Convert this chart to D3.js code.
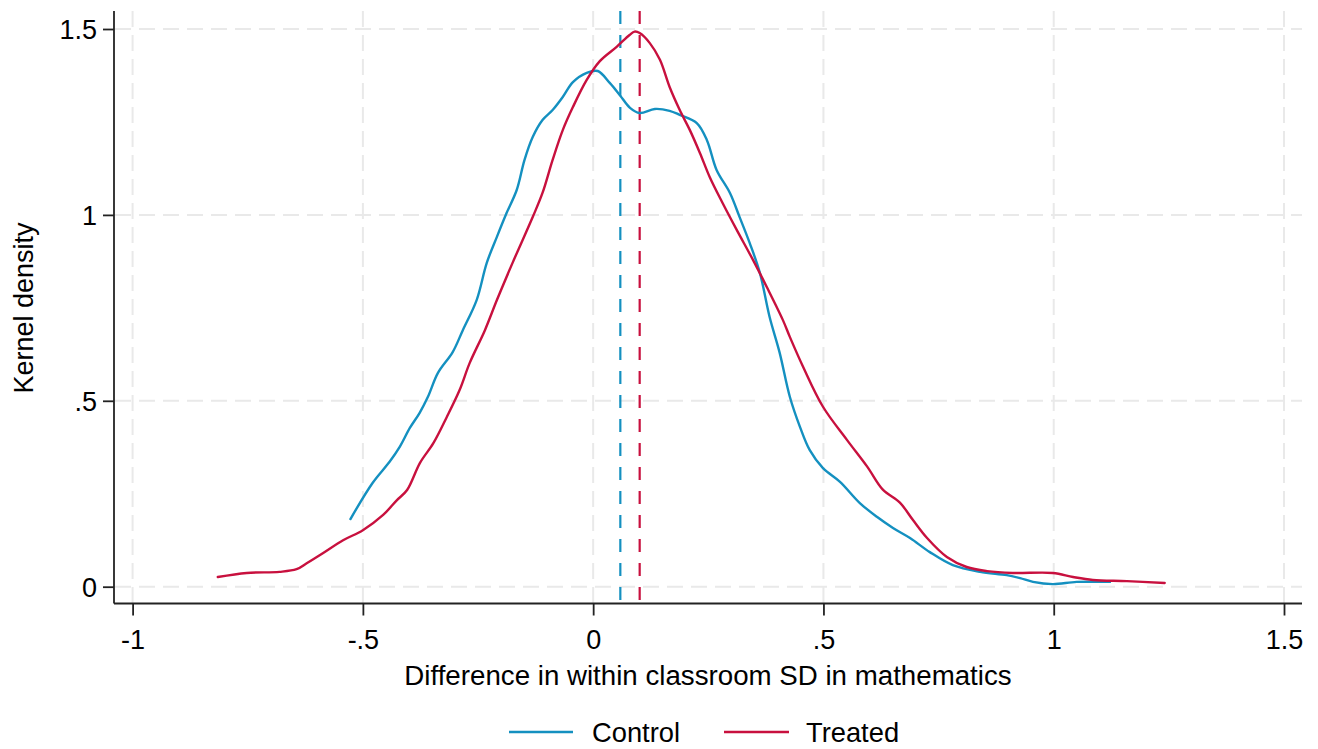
<!DOCTYPE html>
<html>
<head>
<meta charset="utf-8">
<script src="https://cdn.jsdelivr.net/npm/d3@7"></script>
<style>
  html, body { margin: 0; padding: 0; background: #fff; }
  svg { display: block; }
  text { font-family: "Liberation Sans", Arial, sans-serif; fill: #000; }
</style>
</head>
<body>
<svg id="chart" width="1318" height="749"></svg>
<script>
// ---- Data ----
const seriesNames = ["Control", "Treated"];
const controlX = [-0.527,-0.479,-0.442,-0.420,-0.398,-0.377,-0.359,-0.337,-0.305,-0.283,-0.253,-0.231,-0.209,-0.188,-0.166,-0.149,-0.131,-0.110,-0.088,-0.066,-0.044,-0.014,0.010,0.036,0.058,0.080,0.101,0.134,0.166,0.188,0.225,0.247,0.268,0.297,0.318,0.340,0.362,0.383,0.405,0.427,0.449,0.470,0.499,0.536,0.579,0.616,0.651,0.688,0.731,0.781,0.840,0.898,0.927,0.955,0.998,1.050,1.122];
const controlY = [0.182,0.279,0.336,0.376,0.427,0.467,0.510,0.575,0.631,0.690,0.771,0.871,0.941,1.005,1.067,1.148,1.210,1.255,1.282,1.317,1.357,1.382,1.387,1.355,1.322,1.288,1.274,1.285,1.280,1.269,1.247,1.201,1.121,1.059,0.994,0.924,0.844,0.726,0.629,0.511,0.430,0.368,0.319,0.282,0.225,0.188,0.158,0.131,0.093,0.058,0.040,0.031,0.023,0.013,0.007,0.013,0.013];
const treatedX = [-0.815,-0.752,-0.681,-0.644,-0.622,-0.587,-0.543,-0.500,-0.456,-0.426,-0.404,-0.376,-0.347,-0.318,-0.290,-0.268,-0.235,-0.209,-0.175,-0.131,-0.110,-0.088,-0.066,-0.044,-0.014,0.014,0.051,0.079,0.090,0.101,0.123,0.145,0.166,0.188,0.210,0.232,0.253,0.281,0.312,0.347,0.377,0.412,0.427,0.456,0.499,0.551,0.595,0.629,0.666,0.694,0.725,0.768,0.811,0.855,0.911,0.998,1.042,1.085,1.159,1.241];
const treatedY = [0.026,0.037,0.040,0.047,0.063,0.090,0.125,0.152,0.193,0.233,0.260,0.333,0.386,0.456,0.529,0.602,0.690,0.771,0.871,0.995,1.059,1.148,1.228,1.290,1.363,1.413,1.452,1.484,1.493,1.489,1.462,1.417,1.344,1.282,1.228,1.166,1.102,1.032,0.959,0.879,0.806,0.717,0.672,0.591,0.484,0.395,0.323,0.261,0.226,0.180,0.131,0.080,0.053,0.042,0.037,0.037,0.026,0.018,0.015,0.010];
const meanValues = [0.059, 0.101];
const xTicks = [-1, -0.5, 0, 0.5, 1, 1.5];
const xTickLabels = ["-1", "-.5", "0", ".5", "1", "1.5"];
const yTicks = [0, 0.5, 1, 1.5];
const yTickLabels = ["0", ".5", "1", "1.5"];
const colors = ["#1490c0", "#c8103e"];

// ---- Layout ----
const svg = d3.select("#chart");
const plotLeft = 114, plotRight = 1302, plotTop = 11, plotBottom = 603.5;
const x = d3.scaleLinear().domain([-1, 1.5]).range([132.6, 1284]);
const y = d3.scaleLinear().domain([0, 1.5]).range([586.7, 29]);

// Gridlines
const grid = svg.append("g");
grid.selectAll("line.vg").data(xTicks).join("line").attr("class", "vg")
  .attr("x1", d => x(d)).attr("x2", d => x(d))
  .attr("y1", plotTop).attr("y2", plotBottom)
  .attr("stroke", "#e9e9e9").attr("stroke-width", 2).attr("stroke-dasharray", "16,8");
grid.selectAll("line.hg").data(yTicks).join("line").attr("class", "hg")
  .attr("x1", plotLeft + 1).attr("x2", plotRight)
  .attr("y1", d => y(d)).attr("y2", d => y(d))
  .attr("stroke", "#e9e9e9").attr("stroke-width", 2).attr("stroke-dasharray", "16,8");

// Axes
const xAxis = d3.axisBottom(x).tickValues(xTicks).tickFormat((d, i) => xTickLabels[i]).tickSize(12).tickPadding(8);
const yAxis = d3.axisLeft(y).tickValues(yTicks).tickFormat((d, i) => yTickLabels[i]).tickSize(11).tickPadding(6);

const gx = svg.append("g").attr("transform", `translate(0,${plotBottom})`).call(xAxis);
gx.select(".domain").attr("d", `M${plotLeft},0H${plotRight}`).attr("stroke", "#222").attr("stroke-width", 1.8);
gx.selectAll(".tick line").attr("stroke", "#222").attr("stroke-width", 1.8);
gx.selectAll(".tick text").attr("font-size", 27).attr("font-family", "Liberation Sans, Arial, sans-serif").attr("fill", "#000")
  .attr("dy", null).attr("y", 45);

const gy = svg.append("g").attr("transform", `translate(${plotLeft},0)`).call(yAxis);
gy.select(".domain").attr("d", `M0,${plotTop}V${plotBottom}`).attr("stroke", "#222").attr("stroke-width", 1.8);
gy.selectAll(".tick line").attr("stroke", "#222").attr("stroke-width", 1.8);
gy.selectAll(".tick text").attr("font-size", 27).attr("font-family", "Liberation Sans, Arial, sans-serif").attr("fill", "#000")
  .attr("dy", "0.35em").attr("x", -17);

// Mean lines
svg.append("g").selectAll("line").data(meanValues).join("line")
  .attr("x1", d => x(d)).attr("x2", d => x(d))
  .attr("y1", plotTop).attr("y2", plotBottom)
  .attr("stroke", (d, i) => colors[i]).attr("stroke-width", 2.2).attr("stroke-dasharray", "13,11");

// Curves
const series = [
  controlX.map((v, i) => [v, controlY[i]]),
  treatedX.map((v, i) => [v, treatedY[i]])
];
const line = d3.line().x(d => x(d[0])).y(d => y(d[1])).curve(d3.curveCatmullRom.alpha(0.5));
svg.append("g").selectAll("path").data(series).join("path")
  .attr("d", line).attr("fill", "none")
  .attr("stroke", (d, i) => colors[i]).attr("stroke-width", 2.4)
  .attr("stroke-linejoin", "round").attr("stroke-linecap", "round");

// Axis titles
svg.append("text").attr("x", 708).attr("y", 685).attr("text-anchor", "middle").attr("font-size", 27.7)
  .text("Difference in within classroom SD in mathematics");
svg.append("text").attr("transform", "translate(33,308) rotate(-90)").attr("text-anchor", "middle").attr("font-size", 27)
  .text("Kernel density");

// Legend
const legendItems = [
  { name: seriesNames[0], x1: 509, x2: 573, tx: 592 },
  { name: seriesNames[1], x1: 724, x2: 789, tx: 806 }
];
const lg = svg.append("g");
legendItems.forEach((it, i) => {
  lg.append("line").attr("x1", it.x1).attr("x2", it.x2).attr("y1", 732).attr("y2", 732)
    .attr("stroke", colors[i]).attr("stroke-width", 2.4);
  lg.append("text").attr("x", it.tx).attr("y", 742).attr("font-size", 27.3).text(it.name);
});
</script>
</body>
</html>
